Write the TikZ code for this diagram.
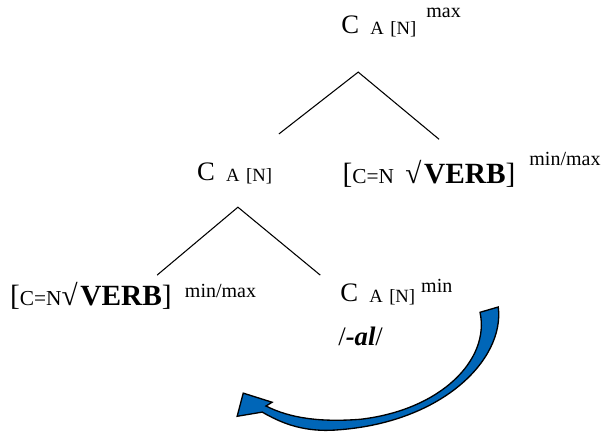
\documentclass[tikz,border=0pt]{standalone}
\usepackage{fontspec}
\setmainfont{Liberation Serif}
\usetikzlibrary{positioning}
\definecolor{arrBlue}{HTML}{0066B8}
\newcommand{\bigsz}{\fontsize{20}{24}\selectfont}
\newcommand{\subsz}{\fontsize{14}{16}\selectfont}
\newcommand{\supsz}{\fontsize{15}{18}\selectfont}
\newcommand{\eqsz}{\fontsize{16}{19}\selectfont}
\newcommand{\rootsz}{\fontsize{22}{26}\selectfont}
% C with subscript A [N]; #1 gap, #2 raise, #3 superscript
\newcommand{\catAN}[3]{{\bigsz C}\hspace{8.4pt}\raisebox{-1pt}{\subsz A\hspace{4.9pt}[N]}\hspace{#1}\raisebox{#2}{\supsz #3}}
% [C=N root VERB] min/max; #1 gap before root, #2 gap, #3 raise
\newcommand{\rootCN}[3]{{\rootsz[}{\eqsz C=N}\hspace{#1}{\rootsz √\hspace{2pt}\textbf{VERB}]}\hspace{#2}\raisebox{#3}{\supsz min/max}}

\begin{document}
\begin{tikzpicture}[
      lab/.style={anchor=base west, inner sep=0pt},
      branch/.style={draw=black, line width=.8pt},
      movearrow/.style={draw=black, line width=1pt, fill=arrBlue, line join=miter}
    ]
      \useasboundingbox (0,0) rectangle (15.97,11.39);

      % labels
      \node[lab] (top) at (8.99,10.52) {\catAN{7.5pt}{11.3pt}{max}};
      \node[lab] (cleft) at (5.19,6.64) {\catAN{0pt}{0pt}{}};
      \node[lab] (rootR) at (9.02,6.56) {\rootCN{8.5pt}{10.5pt}{13.5pt}};
      \node[lab] (rootL) at (0.26,3.35) {\rootCN{0pt}{10pt}{6pt}};
      \node[lab] (cmin) at (8.96,3.45) {\catAN{4.5pt}{6.8pt}{min}};
      \node[lab] (suffix) at (8.91,2.29) {\bigsz/\textbf{\textit{-al}}/};

      % branches
      \coordinate (fork1) at (9.44,9.49);
      \coordinate (fork1l) at (7.35,7.86);
      \coordinate (fork1r) at (11.57,7.72);
      \coordinate (fork2) at (6.27,5.93);
      \coordinate (fork2l) at (4.14,4.14);
      \coordinate (fork2r) at (8.44,4.14);
      \draw[branch] (fork1l) -- (fork1) -- (fork1r);
      \draw[branch] (fork2l) -- (fork2) -- (fork2r);

      % movement arrow
      \draw[movearrow] (12.65,3.16) -- (13.13,3.30)
        .. controls (13.31,1.90) and (11.60,0.18) .. (8.70,0.05)
        .. controls (7.91,0.03) and (7.38,0.26) .. (6.91,0.53)
        -- (6.25,0.42) -- (6.41,1.03) -- (7.17,0.79) -- (7.01,0.69)
        .. controls (7.64,0.37) and (8.44,0.26) .. (9.49,0.34)
        .. controls (11.60,0.58) and (12.92,1.90) .. (12.65,3.16) -- cycle;
    \end{tikzpicture}
\end{document}
